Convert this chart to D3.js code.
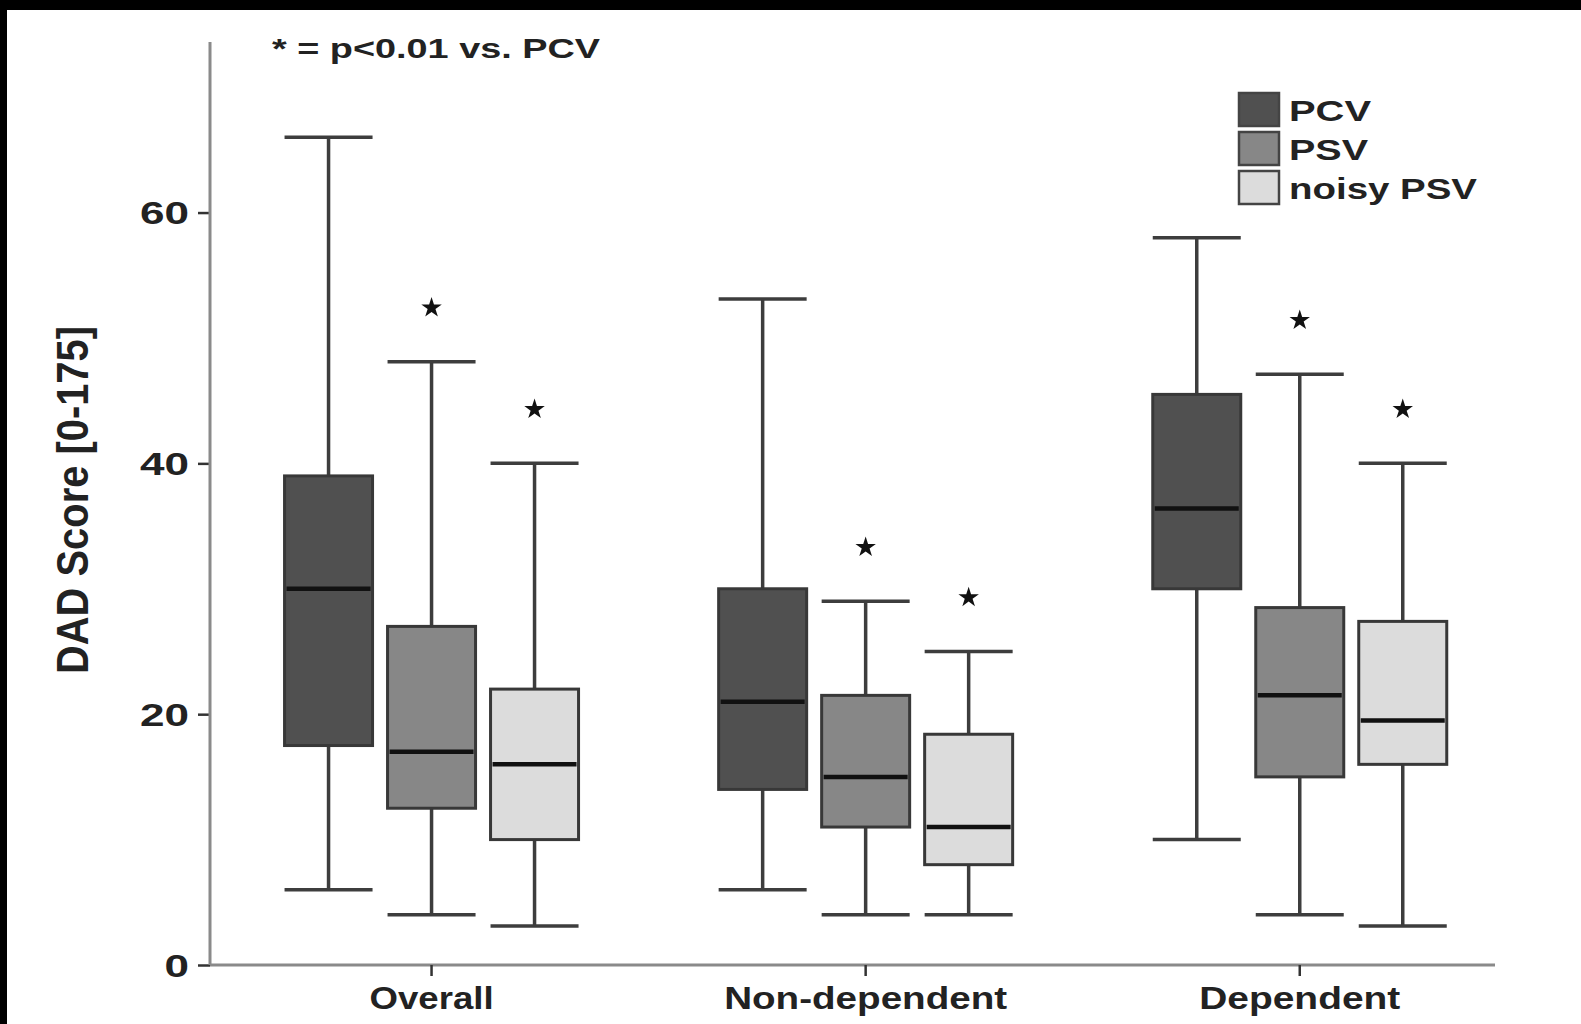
<!DOCTYPE html>
<html>
<head>
<meta charset="utf-8">
<script src="https://cdn.jsdelivr.net/npm/d3@7"></script>
<style>
  body { margin:0; background:#000; }
  svg { display:block; }
</style>
</head>
<body>
<script>

// values, one row per category, columns PCV / PSV / noisy PSV
var categories = ["Overall", "Non-dependent", "Dependent"];
var series = ["PCV", "PSV", "noisy PSV"];
var whiskerTop = [[66, 48.1, 40], [53.1, 29, 25], [58, 47.1, 40]];
var boxTop     = [[39, 27, 22], [30, 21.5, 18.4], [45.5, 28.5, 27.4]];
var medians    = [[30, 17, 16], [21, 15, 11], [36.4, 21.5, 19.5]];
var boxBottom  = [[17.5, 12.5, 10], [14, 11, 8], [30, 15, 16]];
var whiskerLow = [[6, 4, 3.1], [6, 4, 4], [10, 4, 3.1]];
var significant = [[false, true, true], [false, true, true], [false, true, true]];
var yTicks = [0, 20, 40, 60];

var width = 1581, height = 1024;
var boxW = 88;
var fills = ["#505050", "#878787", "#dcdcdc"];
var fontFam = "'Liberation Sans', Arial, sans-serif";

var svg = d3.select("body").append("svg")
    .attr("width", width)
    .attr("height", height);

// black frame of the scanned figure
svg.append("rect").attr("x", 0).attr("y", 0).attr("width", width).attr("height", height).attr("fill", "#000");
svg.append("rect").attr("x", 7).attr("y", 10).attr("width", width - 7).attr("height", height - 10).attr("fill", "#fff");

var y = d3.scaleLinear().domain([0, 73.6]).range([965, 42]);
var x = d3.scaleBand().domain(categories).range([214.5, 1516.8]);
var xs = d3.scalePoint().domain(series).range([-103, 103]);

function cx(ci, si) {
  return x(categories[ci]) + x.bandwidth() / 2 + xs(series[si]);
}

// axes
var yAxis = svg.append("g")
    .attr("transform", "translate(210,0)")
    .call(d3.axisLeft(y).tickValues(yTicks).tickSize(12).tickPadding(9));
yAxis.select(".domain").remove();
yAxis.selectAll(".tick line").attr("stroke", "#333").attr("stroke-width", 2.5);
yAxis.selectAll(".tick text")
    .attr("font-family", fontFam)
    .attr("font-weight", "bold")
    .attr("font-size", 31)
    .attr("fill", "#222")
    .attr("dy", "0.36em")
    .attr("textLength", function(d) { return String(d).length * 24.5; })
    .attr("lengthAdjust", "spacingAndGlyphs");

svg.append("line")
    .attr("x1", 210).attr("x2", 210)
    .attr("y1", y(73.6)).attr("y2", y(0))
    .attr("stroke", "#8a8a8a").attr("stroke-width", 3);

svg.append("line")
    .attr("x1", 210).attr("x2", 1495)
    .attr("y1", y(0)).attr("y2", y(0))
    .attr("stroke", "#8a8a8a").attr("stroke-width", 3);

var xAxis = svg.append("g")
    .attr("transform", "translate(0," + y(0) + ")")
    .call(d3.axisBottom(x).tickSize(11).tickPadding(11));
xAxis.select(".domain").remove();
xAxis.selectAll(".tick line").attr("stroke", "#333").attr("stroke-width", 2.5);
var catWidths = {"Overall": 124, "Non-dependent": 283, "Dependent": 201};
xAxis.selectAll(".tick text")
    .attr("font-family", fontFam)
    .attr("font-weight", "bold")
    .attr("font-size", 31)
    .attr("fill", "#222")
    .attr("textLength", function(d) { return catWidths[d]; })
    .attr("lengthAdjust", "spacingAndGlyphs");

// y label
svg.append("text")
    .attr("transform", "translate(88,500) rotate(-90)")
    .attr("text-anchor", "middle")
    .attr("font-family", fontFam)
    .attr("font-weight", "bold")
    .attr("font-size", 44)
    .attr("fill", "#222")
    .attr("textLength", 348)
    .attr("lengthAdjust", "spacingAndGlyphs")
    .text("DAD Score [0-175]");

// boxes
categories.forEach(function(cat, ci) {
  series.forEach(function(s, si) {
    var c = cx(ci, si);
    var g = svg.append("g");

    g.append("line")
      .attr("x1", c).attr("x2", c)
      .attr("y1", y(whiskerTop[ci][si])).attr("y2", y(whiskerLow[ci][si]))
      .attr("stroke", "#3d3d3d").attr("stroke-width", 3.5);

    g.selectAll("line.cap")
      .data([whiskerTop[ci][si], whiskerLow[ci][si]])
      .enter()
      .append("line")
      .attr("class", "cap")
      .attr("x1", c - boxW / 2).attr("x2", c + boxW / 2)
      .attr("y1", function(d) { return y(d); }).attr("y2", function(d) { return y(d); })
      .attr("stroke", "#3d3d3d").attr("stroke-width", 3.5);

    g.append("rect")
      .attr("x", c - boxW / 2)
      .attr("y", y(boxTop[ci][si]))
      .attr("width", boxW)
      .attr("height", y(boxBottom[ci][si]) - y(boxTop[ci][si]))
      .attr("fill", fills[si])
      .attr("stroke", "#383838")
      .attr("stroke-width", 3);

    g.append("line")
      .attr("x1", c - boxW / 2 + 2).attr("x2", c + boxW / 2 - 2)
      .attr("y1", y(medians[ci][si])).attr("y2", y(medians[ci][si]))
      .attr("stroke", "#111").attr("stroke-width", 4.5);

    if (significant[ci][si]) {
      g.append("path")
        .attr("d", d3.symbol().type(d3.symbolStar).size(130)())
        .attr("transform", "translate(" + c + "," + (y(whiskerTop[ci][si]) - 54) + ")")
        .attr("fill", "#111");
    }
  });
});

// note
svg.append("text")
    .attr("x", 272)
    .attr("y", 58)
    .attr("font-family", fontFam)
    .attr("font-weight", "bold")
    .attr("font-size", 28)
    .attr("fill", "#222")
    .attr("textLength", 328)
    .attr("lengthAdjust", "spacingAndGlyphs")
    .text("* = p<0.01 vs. PCV");

// legend
var legendW = {"PCV": 82, "PSV": 79, "noisy PSV": 188};
var legend = svg.append("g").attr("transform", "translate(1239,93)");
series.forEach(function(s, i) {
  legend.append("rect")
    .attr("x", 0).attr("y", i * 39)
    .attr("width", 40).attr("height", 33)
    .attr("fill", fills[i])
    .attr("stroke", "#444")
    .attr("stroke-width", 2.5);
  legend.append("text")
    .attr("x", 50).attr("y", i * 39 + 28)
    .attr("font-family", fontFam)
    .attr("font-weight", "bold")
    .attr("font-size", 30)
    .attr("fill", "#222")
    .attr("textLength", legendW[s])
    .attr("lengthAdjust", "spacingAndGlyphs")
    .text(s);
});

</script>
</body>
</html>
